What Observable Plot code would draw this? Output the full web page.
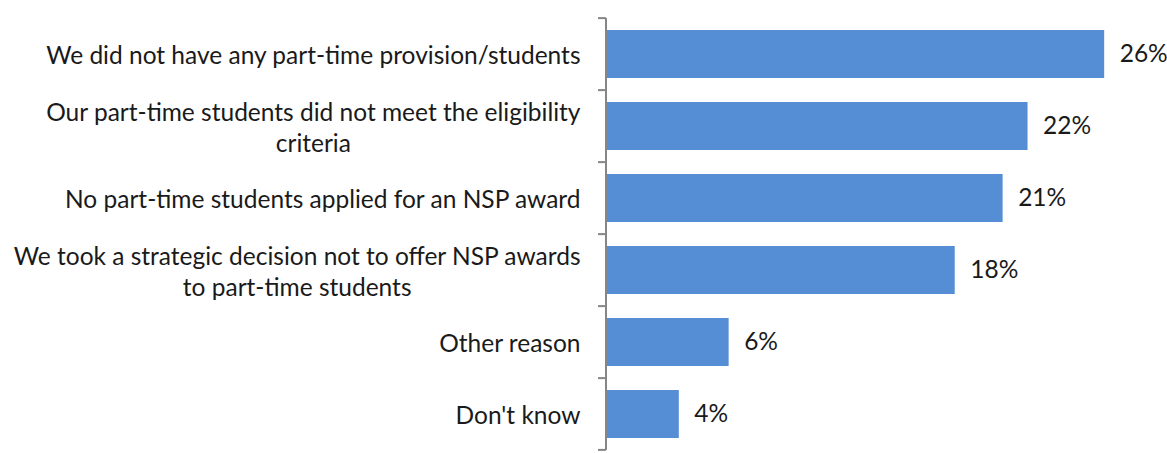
<!DOCTYPE html>
<html>
<head>
<meta charset="utf-8">
<script src="https://cdn.jsdelivr.net/npm/d3@7"></script>
<script src="https://cdn.jsdelivr.net/npm/@observablehq/plot@0.6"></script>
<style>
  html, body { margin: 0; padding: 0; background: #fff; }
  #chart svg { display: block; }
</style>
</head>
<body>
<div id="chart"></div>
<script>
const categories = [
  "We did not have any part-time provision/students",
  "Our part-time students did not meet the eligibility\ncriteria",
  "No part-time students applied for an NSP award",
  "We took a strategic decision not to offer NSP awards\nto part-time students",
  "Other reason",
  "Don't know"
];
const values = [26.0, 22.0, 20.7, 18.2, 6.4, 3.8];
const valueLabels = ["26%", "22%", "21%", "18%", "6%", "4%"];

const data = categories.map((c, i) => ({category: c, value: values[i], label: valueLabels[i]}));

const FONT = "Lato, 'Open Sans', sans-serif";
const FS = 24.5;
const PI = 0.33;

const chart = Plot.plot({
  width: 1167,
  height: 453,
  marginLeft: 606,
  marginRight: 24.5,
  marginTop: 16,
  marginBottom: 0,
  style: {fontFamily: FONT, fontSize: FS + "px", color: "#1a1a1a", background: "#fff", overflow: "visible"},
  x: {domain: [0, 28], axis: null},
  y: {domain: categories, paddingInner: PI, paddingOuter: PI / 2, label: null},
  marks: [
    Plot.axisY({tickSize: 0, tickPadding: 26, fontSize: FS, lineHeight: 1.25}),
    Plot.barX(data, {x: "value", y: "category", fill: "#558ED5"}),
    Plot.text(data, {x: "value", y: "category", text: "label", textAnchor: "start", dx: 15, fontSize: FS, fill: "#1a1a1a"})
  ]
});

document.getElementById("chart").appendChild(chart);

// Axis line and category boundary ticks, computed from the y scale
const ys = chart.scale("y");
const svg = d3.select(chart);
const step = ys.step;
const bounds = categories.map(c => ys.apply(c) - step * PI / 2);
bounds.push(ys.apply(categories[categories.length - 1]) + ys.bandwidth + step * PI / 2);
const x0 = chart.scale("x").apply(0);
const g = svg.append("g").attr("stroke", "#868686").attr("stroke-width", 2).attr("fill", "none");
g.append("line").attr("x1", x0).attr("x2", x0).attr("y1", bounds[0]).attr("y2", bounds[bounds.length - 1]);
bounds.forEach(b => g.append("line").attr("x1", x0 - 8).attr("x2", x0).attr("y1", b).attr("y2", b));

// Centre multi-line labels (as in the original), keeping right edge aligned
svg.selectAll("[aria-label='y-axis tick label'] text").each(function() {
  const tspans = this.querySelectorAll("tspan");
  if (tspans.length > 1) {
    let maxW = 0;
    tspans.forEach(t => { maxW = Math.max(maxW, t.getComputedTextLength()); });
    this.setAttribute("text-anchor", "middle");
    const baseX = +(tspans[0].getAttribute("x") || 0);
    tspans.forEach(t => t.setAttribute("x", baseX - maxW / 2));
  }
});
</script>
</body>
</html>
